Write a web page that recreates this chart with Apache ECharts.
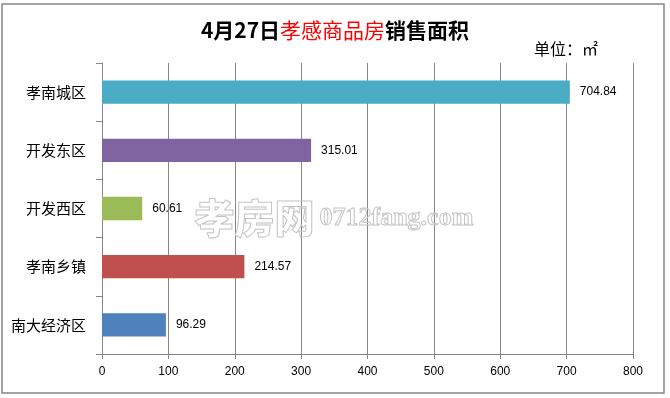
<!DOCTYPE html>
<html>
<head>
<meta charset="utf-8">
<script src="https://cdn.jsdelivr.net/npm/echarts@6/dist/echarts.min.js"></script>
<style>
  html, body { margin: 0; padding: 0; background: #fff; }
  #myChart { width: 670px; height: 398px; }
</style>
</head>
<body>
<div id="myChart"></div>
<script>
var categories = ['孝南城区', '开发东区', '开发西区', '孝南乡镇', '南大经济区'];
var areaValues = [704.84, 315.01, 60.61, 214.57, 96.29];
var barColors = ['#4BACC6', '#8064A2', '#9BBB59', '#C0504D', '#4F81BD'];
var xTicks = [0, 800, 100];

window.onload = function () {
    var myChart = echarts.init(document.getElementById('myChart'));
    var cjk = '"Noto Sans CJK SC", "Liberation Sans", sans-serif';

    var option = {
        backgroundColor: '#fff',
        animation: false,
        title: {
            text: '{b|4月27日}{r|孝感商品房}{b|销售面积}',
            left: 'center',
            top: 15,
            textStyle: {
                rich: {
                    b: { fontSize: 21, fontWeight: 'bold', color: '#000', fontFamily: cjk },
                    r: { fontSize: 21, fontWeight: 'normal', color: '#FF0000', fontFamily: cjk }
                }
            }
        },
        graphic: [
            {
                type: 'rect',
                shape: { x: 2, y: 4, width: 662, height: 389 },
                style: { fill: 'none', stroke: '#868686', lineWidth: 1.5 },
                silent: true
            },
            {
                type: 'text',
                left: 534,
                top: 41,
                style: { text: '单位：㎡', fill: '#000', font: '16px ' + cjk }
            },
            {
                type: 'text',
                left: 194,
                top: 197,
                z: 10,
                style: {
                    text: '孝房网',
                    font: '900 40px ' + cjk,
                    fill: 'rgba(255,255,255,0)',
                    stroke: '#c4c4c4',
                    lineWidth: 1
                },
                silent: true
            },
            {
                type: 'text',
                left: 319,
                top: 205,
                z: 10,
                style: {
                    text: '0712fang.com',
                    font: 'bold 26px "Liberation Serif", serif',
                    fill: 'rgba(255,255,255,0)',
                    stroke: '#c4c4c4',
                    lineWidth: 1
                },
                silent: true
            }
        ],
        grid: { left: 102, right: 37, top: 63, bottom: 44 },
        xAxis: {
            type: 'value',
            min: xTicks[0],
            max: xTicks[1],
            interval: xTicks[2],
            axisLine: { show: true, lineStyle: { color: '#868686' } },
            axisTick: { show: true, length: 5, lineStyle: { color: '#868686' } },
            splitLine: { show: true, lineStyle: { color: '#868686', width: 1 } },
            axisLabel: { color: '#000', fontSize: 12, margin: 12, fontFamily: '"Liberation Sans", sans-serif' }
        },
        yAxis: {
            type: 'category',
            inverse: true,
            data: categories,
            axisLine: { show: true, lineStyle: { color: '#868686' } },
            axisTick: { show: true, length: 6, lineStyle: { color: '#868686' } },
            axisLabel: { color: '#000', fontSize: 15, margin: 16, fontFamily: cjk }
        },
        series: [
            {
                type: 'bar',
                barWidth: '40%',
                data: areaValues.map(function (v, i) {
                    return { value: v, itemStyle: { color: barColors[i] } };
                }),
                label: {
                    show: true,
                    position: 'right',
                    distance: 10,
                    color: '#000',
                    fontSize: 12,
                    fontFamily: '"Liberation Sans", sans-serif',
                    formatter: function (p) { return p.value.toFixed(2); }
                }
            }
        ]
    };
    myChart.setOption(option);
};
</script>
</body>
</html>
